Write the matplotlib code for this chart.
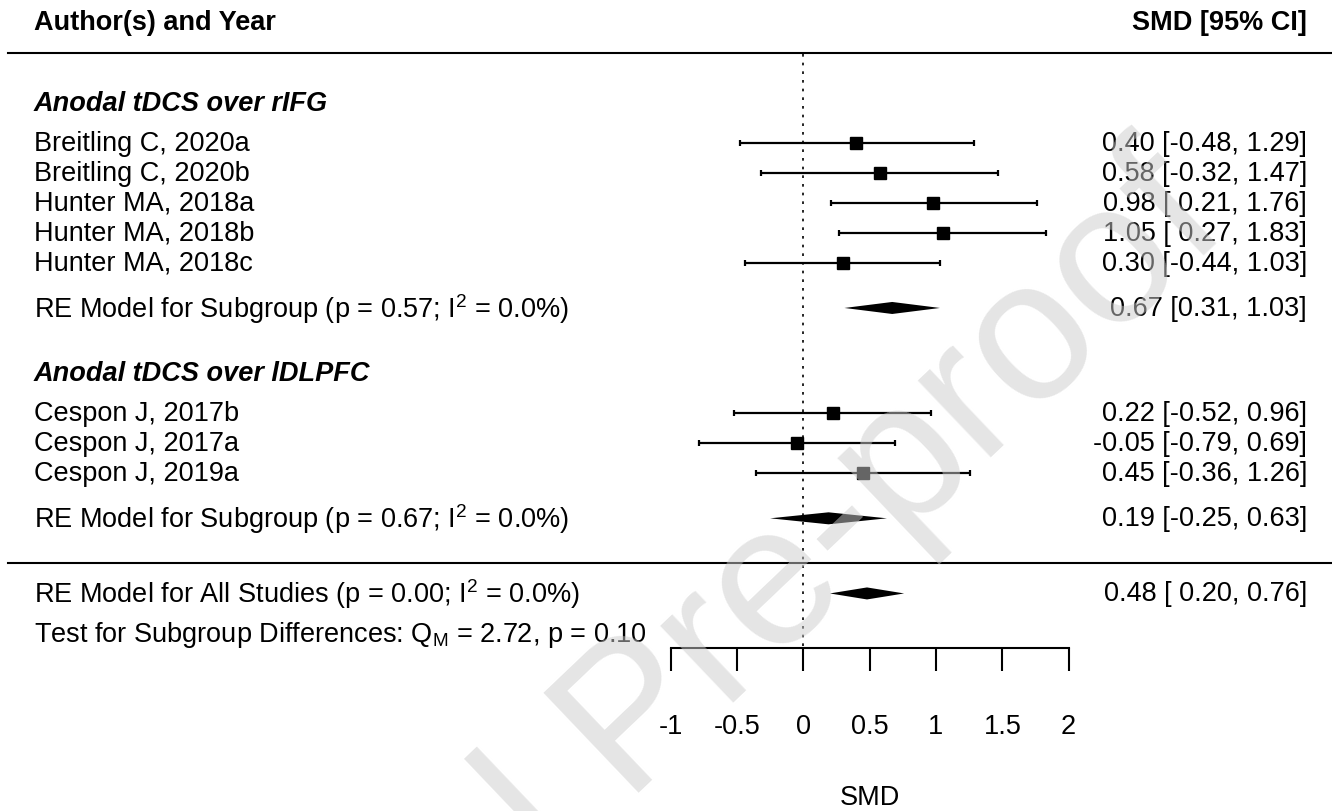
import numpy as np
import matplotlib
matplotlib.use("Agg")
import matplotlib.pyplot as plt

plt.rcParams['font.family'] = ['Liberation Sans', 'DejaVu Sans']
plt.rcParams['mathtext.fontset'] = 'custom'
plt.rcParams['mathtext.rm'] = 'Liberation Sans'
plt.rcParams['mathtext.it'] = 'Liberation Sans:italic'
plt.rcParams['mathtext.bf'] = 'Liberation Sans:bold'

# data
group_names = ["Anodal tDCS over rIFG", "Anodal tDCS over lDLPFC"]
group_sizes = [5, 3]
studies = ["Breitling C, 2020a", "Breitling C, 2020b", "Hunter MA, 2018a",
           "Hunter MA, 2018b", "Hunter MA, 2018c",
           "Cespon J, 2017b", "Cespon J, 2017a", "Cespon J, 2019a"]
smd = [0.40, 0.58, 0.98, 1.05, 0.30, 0.22, -0.05, 0.45]
ci_lb = [-0.48, -0.32, 0.21, 0.27, -0.44, -0.52, -0.79, -0.36]
ci_ub = [1.29, 1.47, 1.76, 1.83, 1.03, 0.96, 0.69, 1.26]

sub_est = [0.67, 0.19]
sub_lb = [0.31, -0.25]
sub_ub = [1.03, 0.63]
sub_p = [0.57, 0.67]
sub_i2 = [0.0, 0.0]

all_est, all_lb, all_ub = 0.48, 0.20, 0.76
all_p, all_i2 = 0.00, 0.0
q_m, q_p = 2.72, 0.10

xticks = [-1, -0.5, 0, 0.5, 1, 1.5, 2]
xticklabels = ["-1", "-0.5", "0", "0.5", "1", "1.5", "2"]

FS = 19.5
TXT_X = -5.80      # left text column
RIGHT_X = 3.797    # right-aligned CI column

fig = plt.figure(figsize=(13.32, 8.12), dpi=100)
ax = fig.add_axes([0, 0, 1, 1])
ax.set_xlim(-6.055, 3.985)
ax.set_ylim(22.24, -4.782)


def diamond(est, lb, ub, row, h=0.2):
    ax.fill([lb, est, ub, est], [row, row - h, row, row + h],
            color='black', lw=0, zorder=3)


# header
ax.text(TXT_X, -4, "Author(s) and Year", fontsize=FS, fontweight='bold',
        ha='left', va='center')
ax.text(RIGHT_X, -4, "SMD [95% CI]", fontsize=FS, fontweight='bold',
        ha='right', va='center')
ax.plot([-5.995, 3.985], [-3, -3], color='black', lw=1.5)

start = 0.0
i = 0
for g, name in enumerate(group_names):
    n = group_sizes[g]
    ax.text(TXT_X, start - 1.32, name, fontsize=FS, fontweight='bold',
            fontstyle='italic', ha='left', va='center')
    for k in range(n):
        row = start + k
        ax.text(TXT_X, row, studies[i], fontsize=FS, ha='left', va='center')
        ax.errorbar(smd[i], row,
                    xerr=[[smd[i] - ci_lb[i]], [ci_ub[i] - smd[i]]],
                    fmt='s', color='black', ms=8.6, elinewidth=1.6,
                    capsize=2.3, capthick=1.6, zorder=3)
        ax.text(RIGHT_X, row, f"{smd[i]:.2f} [{ci_lb[i]:5.2f}, {ci_ub[i]:.2f}]",
                fontsize=FS, ha='right', va='center')
        i += 1
    re_row = start + n - 1 + 1.5
    ax.text(TXT_X, re_row,
            f"RE Model for Subgroup (p = {sub_p[g]:.2f}; I$^2$ = {sub_i2[g]:.1f}%)",
            fontsize=FS, ha='left', va='center')
    diamond(sub_est[g], sub_lb[g], sub_ub[g], re_row)
    ax.text(RIGHT_X, re_row, f"{sub_est[g]:.2f} [{sub_lb[g]:.2f}, {sub_ub[g]:.2f}]",
            fontsize=FS, ha='right', va='center')
    start = re_row + 3.5

line_row = re_row + 1.5
ax.plot([-5.995, 3.985], [line_row, line_row], color='black', lw=1.5)

all_row = line_row + 1
ax.text(TXT_X, all_row,
        f"RE Model for All Studies (p = {all_p:.2f}; I$^2$ = {all_i2:.1f}%)",
        fontsize=FS, ha='left', va='center')
diamond(all_est, all_lb, all_ub, all_row)
ax.text(RIGHT_X, all_row, f"{all_est:.2f} [{all_lb:5.2f}, {all_ub:.2f}]",
        fontsize=FS, ha='right', va='center')

ax.text(TXT_X, all_row + 1.35,
        f"Test for Subgroup Differences: Q$_\\mathrm{{M}}$ = {q_m:.2f}, p = {q_p:.2f}",
        fontsize=FS, ha='left', va='center')

axis_row = all_row + 1.82
ax.plot([0, 0], [-2.95, axis_row], color='black', lw=1.2,
        ls=(0, (1.6, 3.6)), zorder=2)

# x axis drawn on the bottom spine, moved up into the plot
for side in ['left', 'right', 'top']:
    ax.spines[side].set_visible(False)
ax.spines['bottom'].set_position(('data', axis_row))
ax.spines['bottom'].set_bounds(-1, 2)
ax.spines['bottom'].set_linewidth(1.5)
ax.set_xticks(xticks)
ax.set_xticklabels(xticklabels, fontsize=FS)
ax.tick_params(axis='x', direction='out', length=16.8, width=1.5, pad=30)
ax.set_yticks([])
ax.text(0.5, all_row + 6.77, "SMD", fontsize=FS, ha='center', va='center')

# journal watermark over everything
fig.text(0.4775, 0.108, "Journal Pre-proof", fontsize=144, color=(0.8, 0.8, 0.8),
         alpha=0.5, rotation=43.6, rotation_mode='anchor', ha='center',
         va='center', zorder=10)

fig.savefig("out.png", dpi=100)
